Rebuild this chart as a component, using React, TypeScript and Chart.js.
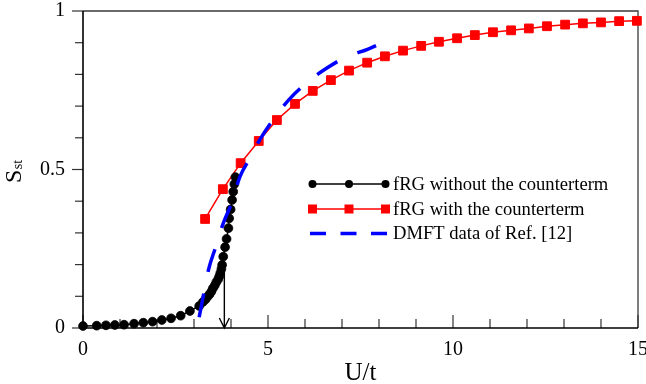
import React, { useEffect, useRef } from 'react';
import { Chart, registerables } from 'chart.js';

Chart.register(...registerables);

// ---- data ----
const blackU = [0, 0.37, 0.62, 0.86, 1.11, 1.38, 1.63, 1.88, 2.13, 2.38, 2.64, 2.89, 3.14,
  3.24, 3.31, 3.36, 3.42, 3.47, 3.51, 3.56, 3.6, 3.65, 3.68, 3.71, 3.74, 3.76,
  3.79, 3.84, 3.88, 3.93, 3.95, 3.99, 4.03, 4.06, 4.09, 4.12];
const blackS = [0.0063, 0.0073, 0.0085, 0.0095, 0.0104, 0.0136, 0.0167, 0.0199, 0.0252, 0.0306, 0.0388, 0.0536, 0.0694,
  0.082, 0.09, 0.098, 0.106, 0.115, 0.125, 0.134, 0.144, 0.153, 0.162, 0.173, 0.186, 0.199,
  0.225, 0.255, 0.281, 0.315, 0.346, 0.374, 0.404, 0.43, 0.454, 0.476];

const redU = [3.3, 3.78, 4.26, 4.75, 5.24, 5.73, 6.21, 6.7, 7.19, 7.68, 8.16, 8.65, 9.14,
  9.62, 10.11, 10.59, 11.08, 11.57, 12.05, 12.54, 13.03, 13.51, 14.0, 14.49, 14.97];
const redS = [0.344, 0.438, 0.52, 0.59, 0.656, 0.707, 0.748, 0.782, 0.812, 0.837, 0.857, 0.875, 0.89,
  0.903, 0.914, 0.924, 0.933, 0.939, 0.945, 0.952, 0.957, 0.961, 0.964, 0.968, 0.969];

const dmftU = [3.14, 3.27, 3.39, 3.59, 3.78, 4.03, 4.24, 4.51, 4.8, 5.19, 5.58, 6.05, 6.54, 7.13, 7.69, 7.92];
const dmftS = [0.034, 0.112, 0.183, 0.257, 0.327, 0.398, 0.477, 0.535, 0.598, 0.665, 0.722, 0.774, 0.816, 0.856, 0.879, 0.891];

const xTickValues = [0, 5, 10, 15];
const yTickValues = [0, 0.5, 1];
const xMinorTicks = [0, 1, 2, 3, 4, 5, 6, 7, 8, 9, 10, 11, 12, 13, 14, 15];
const yMinorTicks = [0, 0.1, 0.2, 0.3, 0.4, 0.5, 0.6, 0.7, 0.8, 0.9, 1];

const criticalU = 3.82;
const arrowTopS = 0.195;

const legendLabels = ['fRG without the counterterm', 'fRG with the counterterm', 'DMFT data of Ref. [12]'];
const xTitle = 'U/t';
const yTitleMain = 'S';
const yTitleSub = 'st';

const SERIF = '"Liberation Serif", "Times New Roman", serif';

const overlay = {
  id: 'overlay',
  beforeDatasetsDraw(chart: any) {
    const { ctx, chartArea: a, scales } = chart;
    const x = scales.x, y = scales.y;
    ctx.save();
    // top/right frame
    ctx.strokeStyle = '#3a3a3a';
    ctx.lineWidth = 1.3;
    ctx.beginPath();
    ctx.moveTo(a.left, a.top);
    ctx.lineTo(a.right, a.top);
    ctx.lineTo(a.right, a.bottom);
    ctx.stroke();
    // x ticks (inward)
    ctx.strokeStyle = '#333';
    ctx.lineWidth = 1.2;
    for (const v of xMinorTicks) {
      const px = x.getPixelForValue(v);
      const len = xTickValues.includes(v) ? 13 : 9;
      ctx.beginPath();
      ctx.moveTo(px, a.bottom);
      ctx.lineTo(px, a.bottom - len);
      ctx.stroke();
    }
    // y ticks (outward)
    for (const v of yMinorTicks) {
      const py = y.getPixelForValue(v);
      const len = yTickValues.some((t) => Math.abs(t - v) < 1e-9) ? 11 : 8;
      ctx.beginPath();
      ctx.moveTo(a.left - len, py);
      ctx.lineTo(a.left, py);
      ctx.stroke();
    }
    // left & bottom axes
    ctx.strokeStyle = '#000';
    ctx.lineWidth = 1.6;
    ctx.beginPath();
    ctx.moveTo(a.left, a.top);
    ctx.lineTo(a.left, a.bottom);
    ctx.lineTo(a.right, a.bottom);
    ctx.stroke();
    ctx.restore();
  },
  afterDatasetsDraw(chart: any) {
    const { ctx, chartArea: a, scales } = chart;
    const x = scales.x, y = scales.y;
    ctx.save();
    // arrow at critical U
    const ax = x.getPixelForValue(criticalU);
    const aTop = y.getPixelForValue(arrowTopS);
    const aBot = y.getPixelForValue(0);
    ctx.strokeStyle = '#000';
    ctx.lineWidth = 1.4;
    ctx.beginPath();
    ctx.moveTo(ax, aTop);
    ctx.lineTo(ax, aBot);
    ctx.moveTo(ax - 5, aBot - 10);
    ctx.lineTo(ax, aBot);
    ctx.lineTo(ax + 5, aBot - 10);
    ctx.stroke();

    // legend
    const lx1 = 312.5, lx2 = 385.5, lxm = (lx1 + lx2) / 2, tx = 393;
    const rows = [184, 209, 233.5];
    ctx.font = `18.6px ${SERIF}`;
    ctx.fillStyle = '#000';
    ctx.textAlign = 'left';
    ctx.textBaseline = 'alphabetic';
    // row 1 black
    ctx.strokeStyle = '#000';
    ctx.lineWidth = 1.5;
    ctx.beginPath();
    ctx.moveTo(lx1, rows[0]);
    ctx.lineTo(lx2, rows[0]);
    ctx.stroke();
    for (const px of [lx1, lxm, lx2]) {
      ctx.beginPath();
      ctx.arc(px, rows[0], 4, 0, Math.PI * 2);
      ctx.fillStyle = '#000';
      ctx.fill();
    }
    // row 2 red
    ctx.strokeStyle = '#ff0000';
    ctx.beginPath();
    ctx.moveTo(lx1, rows[1]);
    ctx.lineTo(lx2, rows[1]);
    ctx.stroke();
    ctx.fillStyle = '#ff0000';
    for (const px of [lx1, lxm, lx2]) {
      ctx.fillRect(px - 4.5, rows[1] - 4.5, 9, 9);
    }
    // row 3 blue dashed
    ctx.strokeStyle = '#0000ff';
    ctx.lineWidth = 3.5;
    ctx.setLineDash([16, 14.5]);
    ctx.beginPath();
    ctx.moveTo(310, rows[2]);
    ctx.lineTo(387, rows[2]);
    ctx.stroke();
    ctx.setLineDash([]);
    ctx.fillStyle = '#000';
    legendLabels.forEach((t, i) => ctx.fillText(t, tx, rows[i] + 5.5));

    // x title
    ctx.font = `25px ${SERIF}`;
    ctx.textAlign = 'center';
    ctx.fillText(xTitle, (a.left + a.right) / 2, 380);

    // y title (rotated)
    ctx.translate(20.5, 183);
    ctx.rotate(-Math.PI / 2);
    ctx.textAlign = 'left';
    ctx.font = `24px ${SERIF}`;
    ctx.fillText(yTitleMain, 0, 0);
    const w = ctx.measureText(yTitleMain).width;
    ctx.font = `14px ${SERIF}`;
    ctx.fillText(yTitleSub, w + 0.5, 1.5);
    ctx.restore();
  },
};

export default function App() {
  const ref = useRef<HTMLCanvasElement | null>(null);
  useEffect(() => {
    if (!ref.current) return;
    const chart = new Chart(ref.current, {
      type: 'line',
      data: {
        datasets: [
          {
            label: legendLabels[2],
            data: dmftU.map((u, i) => ({ x: u, y: dmftS[i] })),
            borderColor: '#0000ff',
            backgroundColor: '#0000ff',
            borderWidth: 3.5,
            borderDash: [24, 22],
            pointRadius: 0,
            cubicInterpolationMode: 'monotone',
            fill: false,
            clip: false as any,
            order: 0,
          },
          {
            label: legendLabels[0],
            data: blackU.map((u, i) => ({ x: u, y: blackS[i] })),
            borderColor: '#000',
            backgroundColor: '#000',
            borderWidth: 1.5,
            pointRadius: 4.4,
            pointBorderWidth: 0.8,
            pointBorderColor: '#000',
            pointBackgroundColor: '#000',
            tension: 0,
            fill: false,
            clip: false as any,
            order: 1,
          },
          {
            label: legendLabels[1],
            data: redU.map((u, i) => ({ x: u, y: redS[i] })),
            borderColor: '#ff0000',
            backgroundColor: '#ff0000',
            borderWidth: 1.5,
            pointStyle: 'rect',
            pointRadius: 6.2,
            pointBorderWidth: 1,
            pointBorderColor: '#ff0000',
            pointBackgroundColor: '#ff0000',
            tension: 0,
            fill: false,
            clip: false as any,
            order: 2,
          },
        ],
      },
      options: {
        responsive: false,
        animation: false,
        devicePixelRatio: 1,
        layout: { padding: { top: 11, right: 8, left: 0, bottom: 0 } },
        plugins: { legend: { display: false }, tooltip: { enabled: false } },
        scales: {
          x: {
            type: 'linear',
            min: 0,
            max: 15,
            afterBuildTicks: (s: any) => {
              s.ticks = xTickValues.map((v) => ({ value: v }));
            },
            ticks: {
              font: { family: SERIF, size: 20 },
              color: '#000',
              padding: 10,
              maxRotation: 0,
              autoSkip: false,
              callback: (v: any) => String(v),
            },
            grid: { display: false, drawTicks: false },
            border: { display: false },
            afterFit: (s: any) => {
              s.height = 56;
              s.paddingLeft = 0;
              s.paddingRight = 0;
            },
          },
          y: {
            type: 'linear',
            min: 0,
            max: 1,
            afterBuildTicks: (s: any) => {
              s.ticks = yTickValues.map((v) => ({ value: v }));
            },
            ticks: {
              font: { family: SERIF, size: 20 },
              color: '#000',
              padding: 18,
              autoSkip: false,
              callback: (v: any) => String(v),
            },
            grid: { display: false, drawTicks: false },
            border: { display: false },
            afterFit: (s: any) => {
              s.width = 83;
              s.paddingTop = 0;
              s.paddingBottom = 0;
            },
          },
        },
      } as any,
      plugins: [overlay],
    });
    return () => chart.destroy();
  }, []);
  return (
    <div style={{ position: 'fixed', left: 0, top: 0, width: 646, height: 384, background: '#fff' }}>
      <canvas ref={ref} width={646} height={384} style={{ display: 'block', width: 646, height: 384 }} />
    </div>
  );
}
